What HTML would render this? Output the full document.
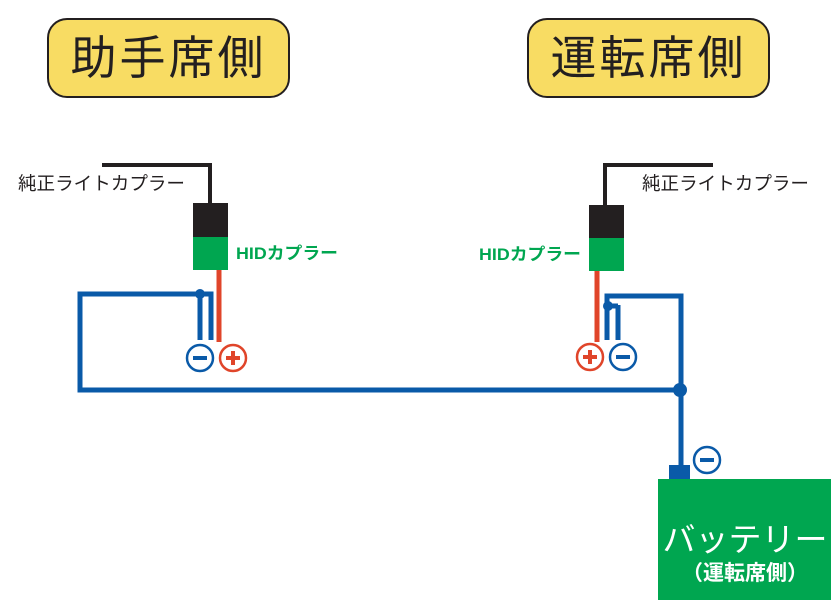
<!DOCTYPE html>
<html><head><meta charset="utf-8"><style>
body{margin:0;width:831px;height:600px;background:#fff;overflow:hidden;position:relative;font-family:"Liberation Sans","Noto Sans CJK JP",sans-serif}
.t{position:absolute;background:#f8dc63;border:2px solid #231f20;border-radius:20px;box-sizing:border-box;text-align:center;font-size:46px;color:#231f20;line-height:76px;letter-spacing:3px}
</style></head><body>
<div class="t" style="left:47px;top:18px;width:243px;height:80px">助手席側</div>
<div class="t" style="left:527px;top:18px;width:243px;height:80px">運転席側</div>
<svg width="831" height="600" style="position:absolute;left:0;top:0" font-family="Liberation Sans, Noto Sans CJK JP, sans-serif">
<!-- left -->
<polyline points="102,165 210,165 210,205" fill="none" stroke="#231f20" stroke-width="4"/>
<rect x="193" y="203" width="35" height="34" fill="#231f20"/>
<rect x="193" y="237" width="35" height="33" fill="#00a650"/>
<line x1="219" y1="270" x2="219" y2="342" stroke="#e0452a" stroke-width="5"/>
<polyline points="211,340 211,294 80,294 80,390 681,390" fill="none" stroke="#0a5aa8" stroke-width="5"/>
<line x1="200" y1="294" x2="200" y2="340" stroke="#0a5aa8" stroke-width="5"/>
<circle cx="200" cy="294" r="5" fill="#0a5aa8"/>
<circle cx="200" cy="358" r="13" fill="#fff" stroke="#0a5aa8" stroke-width="2.5"/>
<line x1="193" y1="358" x2="207" y2="358" stroke="#0a5aa8" stroke-width="4"/>
<circle cx="233" cy="358" r="13" fill="#fff" stroke="#e0452a" stroke-width="2.5"/>
<line x1="226" y1="358" x2="240" y2="358" stroke="#e0452a" stroke-width="4"/>
<line x1="233" y1="351" x2="233" y2="365" stroke="#e0452a" stroke-width="4"/>
<text x="18" y="190" font-size="18.5" fill="#231f20" textLength="167" lengthAdjust="spacingAndGlyphs">純正ライトカプラー</text>
<text x="236" y="259" font-size="17" font-weight="bold" fill="#00a650" textLength="102" lengthAdjust="spacingAndGlyphs">HIDカプラー</text>
<!-- right -->
<polyline points="713,165 605,165 605,205" fill="none" stroke="#231f20" stroke-width="4"/>
<rect x="589" y="205" width="35" height="33" fill="#231f20"/>
<rect x="589" y="238" width="35" height="33" fill="#00a650"/>
<line x1="597" y1="271" x2="597" y2="342" stroke="#e0452a" stroke-width="5"/>
<polyline points="607,340 607,296 681,296 681,470" fill="none" stroke="#0a5aa8" stroke-width="5"/>
<line x1="618" y1="305" x2="618" y2="340" stroke="#0a5aa8" stroke-width="5"/>
<circle cx="608" cy="306" r="5" fill="#0a5aa8"/>
<line x1="608" y1="306" x2="618" y2="306" stroke="#0a5aa8" stroke-width="5"/>
<circle cx="680" cy="390" r="7" fill="#0a5aa8"/>
<circle cx="590" cy="357" r="13" fill="#fff" stroke="#e0452a" stroke-width="2.5"/>
<line x1="583" y1="357" x2="597" y2="357" stroke="#e0452a" stroke-width="4"/>
<line x1="590" y1="350" x2="590" y2="364" stroke="#e0452a" stroke-width="4"/>
<circle cx="623" cy="357" r="13" fill="#fff" stroke="#0a5aa8" stroke-width="2.5"/>
<line x1="616" y1="357" x2="630" y2="357" stroke="#0a5aa8" stroke-width="4"/>
<text x="642" y="190" font-size="18.5" fill="#231f20" textLength="167" lengthAdjust="spacingAndGlyphs">純正ライトカプラー</text>
<text x="479" y="260" font-size="17" font-weight="bold" fill="#00a650" textLength="102" lengthAdjust="spacingAndGlyphs">HIDカプラー</text>
<!-- battery -->
<rect x="669" y="465" width="21" height="16" fill="#0a5aa8"/>
<circle cx="707" cy="460" r="13" fill="#fff" stroke="#0a5aa8" stroke-width="2.5"/>
<line x1="700" y1="460" x2="714" y2="460" stroke="#0a5aa8" stroke-width="4"/>
<rect x="658" y="479" width="173" height="121" fill="#00a650"/>
<text x="745" y="551" font-size="33" fill="#fff" text-anchor="middle">バッテリー</text>
<text x="745" y="580" font-size="21" font-weight="bold" fill="#fff" text-anchor="middle">（運転席側）</text>
</svg>
</body></html>
